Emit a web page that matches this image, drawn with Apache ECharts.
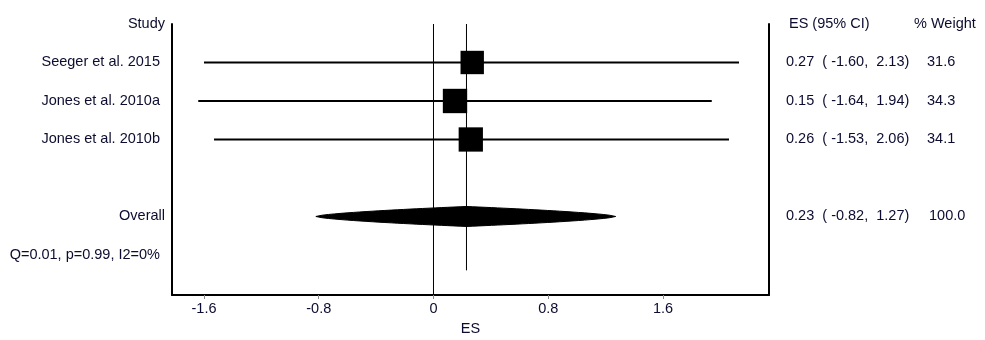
<!DOCTYPE html>
<html>
<head>
<meta charset="utf-8">
<script src="https://cdn.jsdelivr.net/npm/echarts@6/dist/echarts.min.js"></script>
<style>html,body{margin:0;padding:0;background:#fff;}#main{width:985px;height:340px;}</style>
</head>
<body>
<div id="main"></div>
<script>
// ---- data ----
const studies = ['Seeger et al. 2015', 'Jones et al. 2010a', 'Jones et al. 2010b'];
const es = [0.27, 0.15, 0.26];
const lower = [-1.60, -1.64, -1.53];
const upper = [2.13, 1.94, 2.06];
const weights = [31.6, 34.3, 34.1];
const overallLabel = 'Overall';
const overallEs = 0.23;
const overallLower = -0.82;
const overallUpper = 1.27;
const overallWeight = 100.0;
const heterogeneity = 'Q=0.01, p=0.99, I2=0%';
const xTicks = [-1.6, -0.8, 0, 0.8, 1.6];
const headers = ['Study', 'ES (95% CI)', '% Weight'];
const axisName = 'ES';

// rows: header 0, studies 1..n, overall n+2, heterogeneity n+3
const studyRows = studies.map((s, i) => i + 1);
const overallRow = studies.length + 2;
const hetRow = studies.length + 3;
const yMax = 7.04;

const FONT = '"Liberation Sans", Arial, sans-serif';
const FS = 14.5;
const TXT = '#0c0c30';

function fmtCI(e, lo, up) {
  return e.toFixed(2) + '  ( ' + lo.toFixed(2) + ',  ' + up.toFixed(2) + ')';
}

// text table built from the arrays
const textItems = [];
textItems.push({row: 0, text: headers[0], x: 165, align: 'right'});
textItems.push({row: 0, text: headers[1], x: 789, align: 'left'});
textItems.push({row: 0, text: headers[2], x: 914, align: 'left'});
studies.forEach((s, i) => {
  textItems.push({row: studyRows[i], text: s, x: 160, align: 'right'});
  textItems.push({row: studyRows[i], text: fmtCI(es[i], lower[i], upper[i]), x: 786, align: 'left'});
  textItems.push({row: studyRows[i], text: weights[i].toFixed(1), x: 927, align: 'left'});
});
textItems.push({row: overallRow, text: overallLabel, x: 165, align: 'right'});
textItems.push({row: overallRow, text: fmtCI(overallEs, overallLower, overallUpper), x: 786, align: 'left'});
textItems.push({row: overallRow, text: overallWeight.toFixed(1), x: 929, align: 'left'});
textItems.push({row: hetRow, text: heterogeneity, x: 160, align: 'right'});

const chart = echarts.init(document.getElementById('main'), null, {renderer: 'canvas'});

const yAxisBase = {
  type: 'value', min: 0, max: yMax, inverse: true,
  axisLine: {show: true, onZero: false, lineStyle: {color: '#000', width: 2}},
  axisTick: {show: false}, axisLabel: {show: false}, splitLine: {show: false}
};

chart.setOption({
  animation: false,
  backgroundColor: '#fff',
  grid: {left: 172, right: 216, top: 24, bottom: 45, containLabel: false, outerBoundsMode: 'none'},
  xAxis: {
    type: 'value', min: -1.823, max: 2.339,
    axisLine: {show: true, onZero: false, lineStyle: {color: '#000', width: 2}},
    axisTick: {show: true, customValues: xTicks, length: 4, lineStyle: {color: '#888', width: 1}},
    axisLabel: {
      customValues: xTicks, margin: 6,
      formatter: v => String(v),
      fontFamily: FONT, fontSize: FS, color: TXT
    },
    splitLine: {show: false},
    name: axisName, nameLocation: 'middle', nameGap: 26,
    nameTextStyle: {fontFamily: FONT, fontSize: FS, color: TXT}
  },
  yAxis: [
    Object.assign({}, yAxisBase, {position: 'left'}),
    Object.assign({}, yAxisBase, {position: 'right'})
  ],
  series: [
    // reference lines: null line and overall estimate line
    {
      type: 'custom', silent: true,
      data: [[0, 0, yMax], [overallEs, 0, 6.4]],
      renderItem: (params, api) => {
        const a = api.coord([api.value(0), api.value(1)]);
        const b = api.coord([api.value(0), api.value(2)]);
        return {type: 'line', shape: {x1: a[0], y1: a[1], x2: b[0], y2: b[1]},
          style: {stroke: '#000', lineWidth: 1}};
      }
    },
    // study CIs and weight boxes
    {
      type: 'custom', silent: true,
      data: studies.map((s, i) => [es[i], studyRows[i], lower[i], upper[i], weights[i]]),
      renderItem: (params, api) => {
        const y = api.value(1);
        const pL = api.coord([api.value(2), y]);
        const pU = api.coord([api.value(3), y]);
        const pE = api.coord([api.value(0), y]);
        const side = 24 * Math.sqrt(api.value(4) / 33.3);
        return {type: 'group', children: [
          {type: 'line', shape: {x1: pL[0], y1: pL[1], x2: pU[0], y2: pU[1]},
            style: {stroke: '#000', lineWidth: 2}},
          {type: 'rect', shape: {x: pE[0] - side / 2, y: pE[1] - side / 2, width: side, height: side},
            style: {fill: '#000'}}
        ]};
      }
    },
    // overall diamond
    {
      type: 'custom', silent: true,
      data: [[overallEs, overallRow, overallLower, overallUpper]],
      renderItem: (params, api) => {
        const y = api.value(1);
        const pL = api.coord([api.value(2), y]);
        const pU = api.coord([api.value(3), y]);
        const pE = api.coord([api.value(0), y]);
        const half = 10;
        const N = 24;
        const top = [], bot = [];
        for (let k = 0; k <= N; k++) {
          const t = k / N;
          const x = pL[0] + (pE[0] - pL[0]) * t;
          const h = half * Math.pow(t, 0.65);
          top.push([x, pE[1] - h]); bot.push([x, pE[1] + h]);
        }
        for (let k = N - 1; k >= 0; k--) {
          const t = k / N;
          const x = pU[0] + (pE[0] - pU[0]) * t;
          const h = half * Math.pow(t, 0.65);
          top.push([x, pE[1] - h]); bot.push([x, pE[1] + h]);
        }
        const pts = top.concat(bot.reverse());
        return {type: 'polygon', shape: {points: pts}, style: {fill: '#000', stroke: '#000', lineWidth: 1}};
      }
    },
    // texts
    {
      type: 'custom', silent: true,
      data: textItems.map(t => [0, t.row]),
      renderItem: (params, api) => {
        const it = textItems[params.dataIndex];
        const p = api.coord([0, api.value(1)]);
        return {type: 'text', x: it.x, y: p[1],
          style: {text: it.text, fill: TXT, font: FS + 'px ' + FONT,
            textAlign: it.align, textVerticalAlign: 'middle'}};
      }
    }
  ]
});
</script>
</body>
</html>
